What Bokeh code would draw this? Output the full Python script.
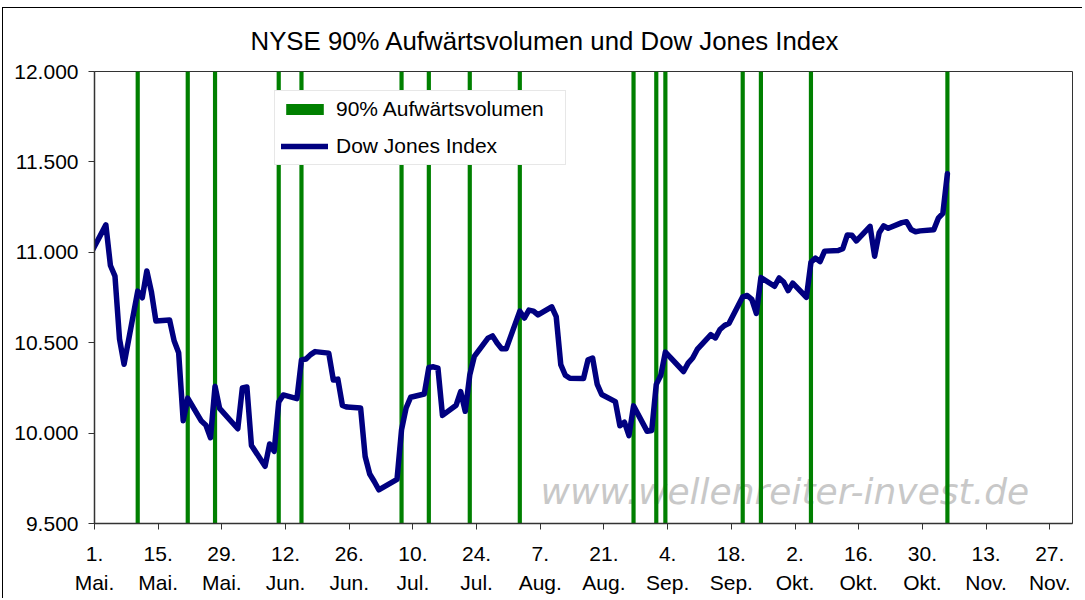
import pandas as pd
from bokeh.plotting import figure
from bokeh.models import FixedTicker, Range1d, Legend, LegendItem, Label
from bokeh.embed import file_html
from bokeh.resources import INLINE

# ---------------- data ----------------
dow_dates = [
    "2010-04-30", "2010-05-03", "2010-05-04", "2010-05-05", "2010-05-06", "2010-05-07",
    "2010-05-10", "2010-05-11", "2010-05-12", "2010-05-13", "2010-05-14",
    "2010-05-17", "2010-05-18", "2010-05-19", "2010-05-20", "2010-05-21",
    "2010-05-24", "2010-05-25", "2010-05-26", "2010-05-27", "2010-05-28",
    "2010-06-01", "2010-06-02", "2010-06-03", "2010-06-04",
    "2010-06-07", "2010-06-08", "2010-06-09", "2010-06-10", "2010-06-11",
    "2010-06-14", "2010-06-15", "2010-06-16", "2010-06-17", "2010-06-18",
    "2010-06-21", "2010-06-22", "2010-06-23", "2010-06-24", "2010-06-25",
    "2010-06-28", "2010-06-29", "2010-06-30", "2010-07-01", "2010-07-02",
    "2010-07-06", "2010-07-07", "2010-07-08", "2010-07-09",
    "2010-07-12", "2010-07-13", "2010-07-14", "2010-07-15", "2010-07-16",
    "2010-07-19", "2010-07-20", "2010-07-21", "2010-07-22", "2010-07-23",
    "2010-07-26", "2010-07-27", "2010-07-28", "2010-07-29", "2010-07-30",
    "2010-08-02", "2010-08-03", "2010-08-04", "2010-08-05", "2010-08-06",
    "2010-08-09", "2010-08-10", "2010-08-11", "2010-08-12", "2010-08-13",
    "2010-08-16", "2010-08-17", "2010-08-18", "2010-08-19", "2010-08-20",
    "2010-08-23", "2010-08-24", "2010-08-25", "2010-08-26", "2010-08-27",
    "2010-08-30", "2010-08-31", "2010-09-01", "2010-09-02", "2010-09-03",
    "2010-09-07", "2010-09-08", "2010-09-09", "2010-09-10",
    "2010-09-13", "2010-09-14", "2010-09-15", "2010-09-16", "2010-09-17",
    "2010-09-20", "2010-09-21", "2010-09-22", "2010-09-23", "2010-09-24",
    "2010-09-27", "2010-09-28", "2010-09-29", "2010-09-30", "2010-10-01",
    "2010-10-04", "2010-10-05", "2010-10-06", "2010-10-07", "2010-10-08",
    "2010-10-11", "2010-10-12", "2010-10-13", "2010-10-14", "2010-10-15",
    "2010-10-18", "2010-10-19", "2010-10-20", "2010-10-21", "2010-10-22",
    "2010-10-25", "2010-10-26", "2010-10-27", "2010-10-28", "2010-10-29",
    "2010-11-01", "2010-11-02", "2010-11-03", "2010-11-04",
]
dow_close = [
    11008.61, 11151.83, 10926.77, 10868.12, 10520.32, 10380.43,
    10785.14, 10748.26, 10896.91, 10782.95, 10620.16,
    10625.83, 10510.95, 10444.37, 10068.01, 10193.39,
    10066.57, 10043.75, 9974.45, 10258.99, 10136.63,
    10024.02, 10249.54, 10255.28, 9931.97,
    9816.49, 9939.98, 9899.25, 10172.53, 10211.07,
    10190.89, 10404.77, 10409.46, 10434.17, 10450.64,
    10442.41, 10293.52, 10298.44, 10152.80, 10143.81,
    10138.52, 9870.30, 9774.02, 9732.53, 9686.48,
    9743.62, 10018.28, 10138.99, 10198.03,
    10216.27, 10363.02, 10366.72, 10359.31, 10097.90,
    10154.43, 10229.96, 10120.53, 10322.30, 10424.62,
    10525.43, 10537.69, 10497.88, 10467.16, 10465.94,
    10674.38, 10636.38, 10680.43, 10674.98, 10653.56,
    10698.75, 10644.25, 10378.83, 10319.95, 10303.15,
    10302.01, 10405.85, 10415.54, 10271.21, 10213.62,
    10174.41, 10040.45, 10060.06, 9985.81, 10150.65,
    10009.73, 10014.72, 10269.47, 10320.10, 10447.93,
    10340.69, 10387.01, 10415.24, 10462.77,
    10544.13, 10526.49, 10572.73, 10594.83, 10607.85,
    10753.62, 10761.03, 10739.31, 10662.42, 10860.26,
    10812.04, 10858.14, 10835.28, 10788.05, 10829.68,
    10751.27, 10944.72, 10967.65, 10948.58, 11006.48,
    11010.34, 11020.40, 11096.08, 11094.57, 11062.78,
    11143.69, 10978.62, 11107.97, 11146.57, 11132.56,
    11164.05, 11169.46, 11126.28, 11113.95, 11118.49,
    11124.62, 11188.72, 11215.13, 11434.84,
]

# days with 90% up volume on the NYSE (bars reach the top of the value axis)
up_days = [
    "2010-05-10", "2010-05-21", "2010-05-27", "2010-06-10", "2010-06-15",
    "2010-07-07", "2010-07-13", "2010-07-22", "2010-08-02", "2010-08-27",
    "2010-09-01", "2010-09-03", "2010-09-20", "2010-09-24", "2010-10-05",
    "2010-11-04",
]
up_bar_top = 12000

x_tick_dates = [
    "2010-05-01", "2010-05-15", "2010-05-29", "2010-06-12", "2010-06-26",
    "2010-07-10", "2010-07-24", "2010-08-07", "2010-08-21", "2010-09-04",
    "2010-09-18", "2010-10-02", "2010-10-16", "2010-10-30", "2010-11-13",
    "2010-11-27",
]
x_tick_labels = [
    "1.\nMai.", "15.\nMai.", "29.\nMai.", "12.\nJun.", "26.\nJun.",
    "10.\nJul.", "24.\nJul.", "7.\nAug.", "21.\nAug.", "4.\nSep.",
    "18.\nSep.", "2.\nOkt.", "16.\nOkt.", "30.\nOkt.", "13.\nNov.",
    "27.\nNov.",
]
y_ticks = [9500, 10000, 10500, 11000, 11500, 12000]
y_tick_labels = ["9.500", "10.000", "10.500", "11.000", "11.500", "12.000"]

title_text = "NYSE 90% Aufwärtsvolumen und Dow Jones Index"
watermark_text = "www.wellenreiter-invest.de"

# ---------------- figure ----------------
half_day = pd.Timedelta(hours=12)
dow_x = pd.to_datetime(dow_dates) + half_day
up_x = pd.to_datetime(up_days) + half_day

def ms(d):
    return int(pd.Timestamp(d).value // 10**6)

FONT = "Liberation Sans"

p = figure(
    width=1080, height=591,
    x_axis_type="datetime",
    x_range=Range1d(pd.Timestamp("2010-05-01"), pd.Timestamp("2010-12-02")),
    y_range=Range1d(9500, 12000),
    output_backend="svg", toolbar_location=None, tools="",
    min_border_left=91, min_border_right=11, min_border_top=63, min_border_bottom=76,
)
p.styles = {"border-top": "1px solid #000000", "border-left": "1px solid #000000",
            "margin-top": "7px", "margin-left": "2px"}

p.title.text = title_text
p.title.align = "left"
p.title.offset = 156
p.title.text_font = FONT
p.title.text_font_size = "25.8px"
p.title.text_font_style = "normal"
p.title.text_color = "#000000"
p.title.standoff = 33

p.background_fill_color = "#ffffff"
p.border_fill_color = "#ffffff"
p.outline_line_color = "#333333"
p.outline_line_width = 1
p.xgrid.visible = False
p.ygrid.visible = False

wm = Label(x=ms("2010-08-07 01:00"), y=9675, text=watermark_text,
           text_font="DejaVu Sans", text_font_style="italic", text_font_size="36px",
           text_color="#c8c8c8", text_align="left", text_baseline="alphabetic",
           level="underlay")
p.add_layout(wm)

bars = p.vbar(x=up_x, top=up_bar_top, bottom=9500, width=0.92 * 86400000,
              fill_color="#008000", line_color=None)
line = p.line(dow_x, dow_close, line_color="#000080", line_width=5.5,
              line_join="round", line_cap="round")

# axes
for ax in (p.xaxis[0], p.yaxis[0]):
    ax.axis_line_color = "#333333"
    ax.axis_line_width = 1.5
    ax.major_tick_line_color = "#333333"
    ax.major_tick_in = 0
    ax.major_tick_out = 6
    ax.minor_tick_line_color = None
    ax.major_label_text_font = FONT
    ax.major_label_text_font_size = "21px"
    ax.major_label_text_color = "#000000"

p.xaxis.ticker = FixedTicker(ticks=[ms(d) for d in x_tick_dates])
p.xaxis.major_label_overrides = {ms(d): lab for d, lab in zip(x_tick_dates, x_tick_labels)}
p.xaxis.major_label_text_line_height = 1.3
p.xaxis.major_label_standoff = 12

p.yaxis.ticker = FixedTicker(ticks=y_ticks)
p.yaxis.major_label_overrides = {v: lab for v, lab in zip(y_ticks, y_tick_labels)}
p.yaxis.major_label_standoff = 10

legend = Legend(
    items=[LegendItem(label="90% Aufwärtsvolumen", renderers=[bars]),
           LegendItem(label="Dow Jones Index", renderers=[line])],
    location=(180, 358),
    label_text_font=FONT, label_text_font_size="21px", label_text_color="#000000",
    glyph_width=47, glyph_height=14, label_standoff=8, label_width=223,
    padding=6, spacing=13, margin=0,
    border_line_color="#d0d0d0", border_line_width=1,
    background_fill_color="#ffffff", background_fill_alpha=1.0,
)
p.add_layout(legend)

open("out.html", "w").write(file_html(p, INLINE))
